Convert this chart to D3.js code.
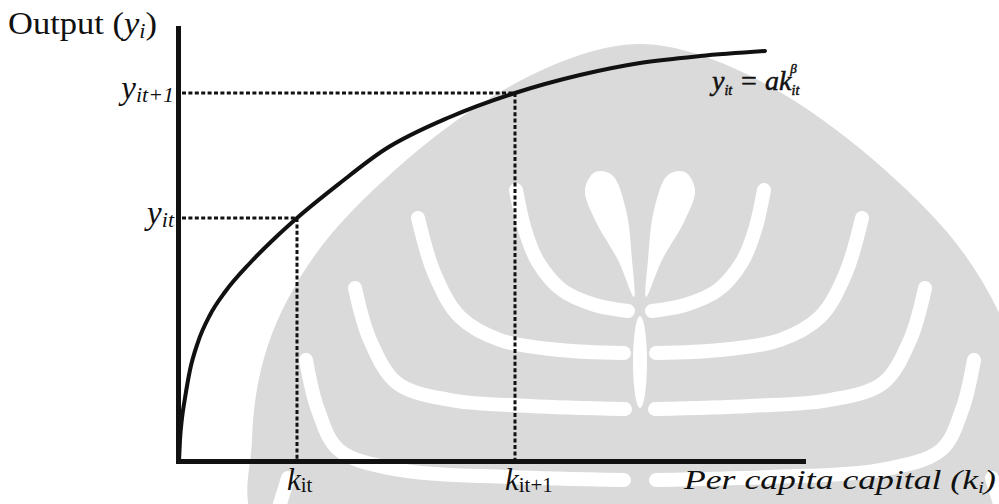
<!DOCTYPE html>
<html>
<head>
<meta charset="utf-8">
<script src="https://cdn.jsdelivr.net/npm/d3@7"></script>
<style>
  html, body { margin: 0; padding: 0; background: #ffffff; }
  svg { display: block; }
  .lbl { font-family: "Liberation Serif", "DejaVu Serif", serif; fill: #111; }
</style>
</head>
<body>
<svg id="chart" width="999" height="504"></svg>
<script>
// Production function y = a k^beta, read as points along the curve
const capital = [0.16, 0.32, 0.64, 1.12, 1.92, 3.2, 5.12, 7.52, 11.52, 15.52, 19.04, 25.92, 32.96, 43.52, 53.92, 64.32, 73.92, 83.52, 93.92];
const output  = [0.0, 4.85, 9.93, 14.55, 21.02, 27.48, 33.72, 39.03, 45.73, 51.5, 56.12, 64.2, 71.82, 79.45, 84.99, 89.15, 91.92, 93.53, 94.69];

// Two marked periods: capital k_it, k_it+1 and the matching outputs
const markedK = [19.04, 53.92];
const markedY = [56.12, 84.99];
const kLabelSubs = ["it", "it+1"];
const yLabelSubs = ["it", "it+1"];

const svg = d3.select("#chart");

const x = d3.scaleLinear().domain([0, 100]).range([178, 803]);
const y = d3.scaleLinear().domain([0, 100]).range([461, 28]);

// ---- faint emblem in the background ----
const cx = 640;
const toAbs = pts => pts.map(([dx, yy]) => [cx + dx, yy]);
const mirror = pts => pts.map(([dx, yy]) => [-dx, yy]);
const smooth = d3.line().curve(d3.curveCatmullRom.alpha(0.5));
const closedSmooth = d3.line().curve(d3.curveCatmullRomClosed.alpha(0.5));

const emblem = svg.append("g").attr("class", "emblem");
const domeLeft = [[-378, 530], [-388, 440], [-372, 345], [-325, 255], [-245, 170], [-145, 95], [-60, 55], [0, 44]];
const dome = domeLeft.concat(mirror(domeLeft).slice(0, -1).reverse());
emblem.append("path")
  .attr("d", closedSmooth(toAbs(dome)))
  .attr("fill", "#dadada");

// white sweeps separating the petals
const gaps = [
  [[-124, 190], [-115, 230], [-102, 262], [-78, 290], [-45, 305], [-12, 311]],
  [[-222, 218], [-205, 275], [-180, 317], [-140, 340], [-80, 350], [-16, 353]],
  [[-285, 288], [-270, 340], [-243, 383], [-190, 400], [-110, 406], [-15, 409]],
  [[-334, 360], [-322, 410], [-301, 450], [-240, 470], [-130, 477], [-16, 480]],
  [[-365, 520], [-352, 478]]
];
gaps.forEach(g => {
  [g, mirror(g)].forEach(side => {
    emblem.append("path")
      .attr("d", smooth(toAbs(side)))
      .attr("fill", "none")
      .attr("stroke", "#ffffff")
      .attr("stroke-width", 14)
      .attr("stroke-linecap", "round");
  });
});

const leaf = [[-6, 297], [-22, 260], [-45, 220], [-55, 190], [-45, 172], [-28, 175], [-14, 210], [-8, 260]];
[leaf, mirror(leaf)].forEach(side => {
  emblem.append("path")
    .attr("d", closedSmooth(toAbs(side)))
    .attr("fill", "#ffffff");
});
emblem.append("ellipse")
  .attr("cx", cx).attr("cy", 362).attr("rx", 7).attr("ry", 46)
  .attr("fill", "#ffffff");

// ---- dotted guide lines ----
const guides = svg.append("g")
  .attr("stroke", "#111")
  .attr("stroke-width", 3)
  .attr("stroke-dasharray", "4,2.4")
  .attr("fill", "none");

markedK.forEach((k, i) => {
  guides.append("line")
    .attr("x1", x(0) + 4).attr("x2", x(k))
    .attr("y1", y(markedY[i])).attr("y2", y(markedY[i]));
  guides.append("line")
    .attr("x1", x(k)).attr("x2", x(k))
    .attr("y1", y(markedY[i])).attr("y2", y(0) - 2);
});

// ---- production curve ----
const pts = capital.map((k, i) => [x(k), y(output[i])]);
svg.append("path")
  .attr("d", d3.line().curve(d3.curveMonotoneX)(pts))
  .attr("fill", "none")
  .attr("stroke", "#111")
  .attr("stroke-width", 4)
  .attr("stroke-linecap", "round");

// ---- axes ----
const xAxis = svg.append("g")
  .attr("transform", `translate(0,${y(0)})`)
  .call(d3.axisBottom(x).tickValues([]).tickSizeOuter(0));
const yAxis = svg.append("g")
  .attr("transform", `translate(${x(0)},0)`)
  .call(d3.axisLeft(y).tickValues([]).tickSizeOuter(0));
[xAxis, yAxis].forEach(a => a.select(".domain")
  .attr("stroke", "#111")
  .attr("stroke-width", 5)
  .attr("stroke-linecap", "square"));

// ---- labels ----
function subLabel(g, xPos, yPos, main, sub, opts) {
  const t = g.append("text")
    .attr("class", "lbl")
    .attr("x", xPos).attr("y", yPos)
    .attr("text-anchor", opts.anchor || "start")
    .attr("font-size", opts.size)
    .attr("font-style", "italic");
  t.append("tspan").text(main);
  t.append("tspan")
    .attr("font-size", opts.subSize)
    .attr("font-style", opts.subItalic ? "italic" : "normal")
    .attr("dy", opts.subDy)
    .text(sub);
  return t;
}

// y-axis tick labels
markedY.forEach((v, i) => {
  subLabel(svg, x(0) - 4, y(v) + 6, "y", yLabelSubs[i],
    { anchor: "end", size: 33, subSize: 22, subDy: 3, subItalic: true });
});

// x-axis tick labels
markedK.forEach((v, i) => {
  subLabel(svg, x(v) - 10, 490, "k", kLabelSubs[i],
    { anchor: "start", size: 31, subSize: 21, subDy: 2, subItalic: false });
});

// axis titles
const yTitle = svg.append("text").attr("class", "lbl")
  .attr("x", 8).attr("y", 34).attr("font-size", 31)
  .attr("textLength", 149).attr("lengthAdjust", "spacingAndGlyphs");
yTitle.append("tspan").text("Output (");
yTitle.append("tspan").attr("font-style", "italic").text("y");
yTitle.append("tspan").attr("font-style", "italic").attr("font-size", 20).attr("dy", 4).text("i");
yTitle.append("tspan").attr("dy", -4).text(")");

const xTitle = svg.append("text").attr("class", "lbl")
  .attr("x", 684).attr("y", 489)
  .attr("font-size", 28).attr("font-style", "italic")
  .attr("textLength", 312).attr("lengthAdjust", "spacingAndGlyphs");
xTitle.append("tspan").text("Per capita capital (");
xTitle.append("tspan").text("k");
xTitle.append("tspan").attr("font-size", 17).attr("dy", 4).text("i");
xTitle.append("tspan").attr("dy", -4).text(")");

// curve formula
const f = svg.append("text").attr("class", "lbl")
  .attr("x", 712).attr("y", 90).attr("font-size", 28).attr("font-style", "italic")
  .attr("stroke", "#111").attr("stroke-width", 0.5);
f.append("tspan").text("y");
f.append("tspan").attr("font-size", 14).attr("dy", 5).text("it");
f.append("tspan").attr("dy", -5).attr("dx", 7).text("= ak");
f.append("tspan").attr("font-size", 14).attr("dy", 5).text("it");
f.append("tspan").attr("font-size", 13).attr("dy", -22).attr("dx", -9).text("β");
</script>
</body>
</html>
